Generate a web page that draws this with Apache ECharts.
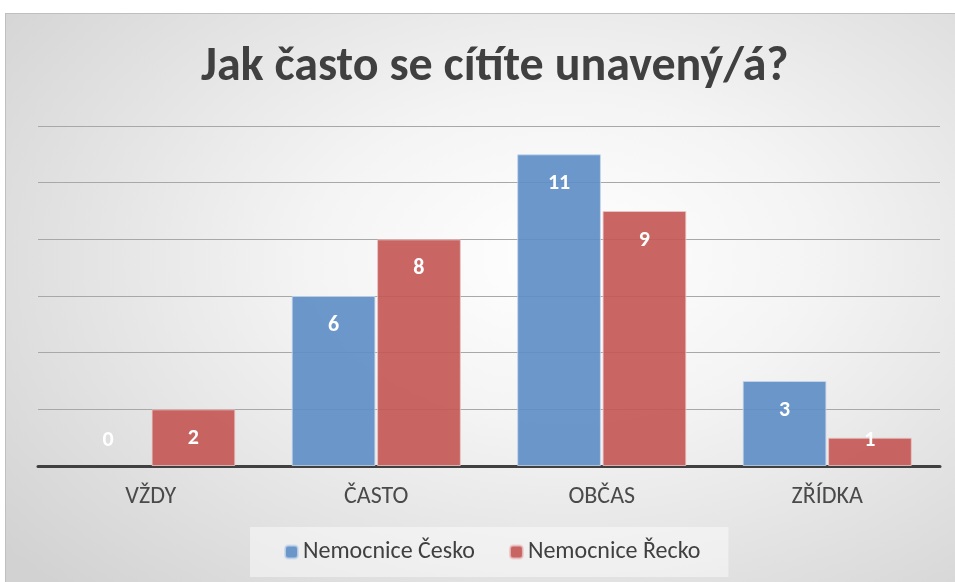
<!DOCTYPE html>
<html>
<head>
<meta charset="utf-8">
<script src="https://cdn.jsdelivr.net/npm/echarts@6/dist/echarts.min.js"></script>
<style>
    html, body { margin: 0; padding: 0; background: #fff; }
    .wrap { position: relative; width: 955px; height: 582px; overflow: hidden; }
    .bg {
        position: absolute; left: 5px; top: 13px; width: 960px; height: 580px;
        border: 1px solid #bfbfbf;
        background: radial-gradient(ellipse 75% 80% at 58% 42%, #ffffff 0%, #f4f4f4 35%, #d2d2d2 100%);
    }
    .chart { position: absolute; left: 0; top: 0; width: 955px; height: 582px; }
</style>
</head>
<body>
<div class="wrap">
    <div class="bg"></div>
    <div class="chart"></div>
</div>
<script>
// data
var categories = ["VŽDY", "ČASTO", "OBČAS", "ZŘÍDKA"];
var seriesNames = ["Nemocnice Česko", "Nemocnice Řecko"];
var cesko = [0, 6, 11, 3];
var recko = [2, 8, 9, 1];

(function () {
    var myChart = echarts.init(document.querySelector(".chart"));
    var font = "Carlito, 'Liberation Sans Narrow', 'Open Sans', sans-serif";

    // popisky uvnitř sloupce, u nízkých sloupců posunuté nahoru
    function items(values) {
        return values.map(function (v) {
            if (v === 0) {
                return { value: v, itemStyle: { borderWidth: 0 }, label: { position: ['50%', -37] } };
            }
            if (v === 1) {
                return { value: v, label: { position: ['50%', -8] } };
            }
            return { value: v };
        });
    }

    var labelStyle = {
        show: true,
        position: 'insideTop',
        distance: 18,
        color: '#fff',
        fontWeight: 'bold',
        fontSize: 22,
        fontFamily: font,
        align: 'center'
    };

    var option = {
        animation: false,
        title: {
            text: "Jak často se cítíte unavený/á?",
            left: 196,
            top: 39,
            textStyle: {
                fontSize: 48,
                fontWeight: 'bold',
                color: '#404040',
                fontFamily: font
            }
        },
        legend: {
            bottom: 5,
            left: 250,
            itemWidth: 13,
            itemHeight: 13,
            itemGap: 34,
            padding: [13, 28, 13, 34],
            backgroundColor: 'rgba(255,255,255,0.45)',
            textStyle: {
                fontSize: 24,
                color: '#404040',
                fontFamily: font
            },
            data: seriesNames
        },
        grid: {
            left: 38,
            right: 15,
            top: 126,
            bottom: 116
        },
        xAxis: {
            type: 'category',
            data: categories,
            axisTick: { show: false },
            axisLine: {
                lineStyle: { color: '#404040', width: 3 }
            },
            axisLabel: {
                color: '#4a4a4a',
                fontSize: 24,
                fontFamily: font,
                margin: 19
            }
        },
        yAxis: {
            type: 'value',
            min: 0,
            max: 12,
            interval: 2,
            axisLabel: { show: false },
            axisLine: { show: false },
            axisTick: { show: false },
            splitLine: {
                lineStyle: { color: '#a8a8a8', width: 1 }
            }
        },
        series: [
            {
                name: seriesNames[0],
                type: 'bar',
                data: items(cesko),
                barCategoryGap: '25%',
                barGap: '2%',
                itemStyle: {
                    color: 'rgba(95,142,199,0.92)',
                    borderColor: 'rgba(200,215,235,0.8)',
                    borderWidth: 1
                },
                label: labelStyle
            },
            {
                name: seriesNames[1],
                type: 'bar',
                data: items(recko),
                barCategoryGap: '25%',
                barGap: '2%',
                itemStyle: {
                    color: 'rgba(196,88,86,0.92)',
                    borderColor: 'rgba(235,200,200,0.8)',
                    borderWidth: 1
                },
                label: labelStyle
            }
        ]
    };
    myChart.setOption(option);
})();
</script>
</body>
</html>
